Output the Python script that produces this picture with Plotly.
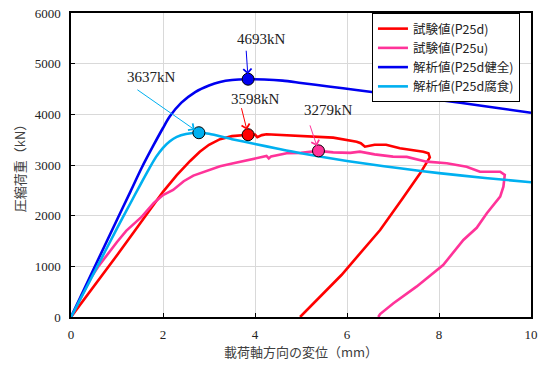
import plotly.graph_objects as go

# ---- data (displacement mm, load kN) ----
red_x = [0, 0.3, 0.59, 1.0, 1.32, 1.7, 2.0, 2.3, 2.59, 2.8, 3.0, 3.24, 3.5, 3.85, 4.0, 4.05, 4.15, 4.25,
         4.98, 5.7, 6.21, 6.3, 6.39, 6.6, 6.85, 7.15, 7.66, 7.77, 7.8, 7.59, 7.2, 6.72, 5.88, 4.98]
red_y = [0, 360, 730, 1220, 1619, 2100, 2470, 2800, 3080, 3260, 3400, 3510, 3570, 3598, 3600, 3550, 3590, 3606,
         3580, 3540, 3460, 3430, 3362, 3400, 3400, 3330, 3260, 3231, 3150, 2836, 2330, 1717, 829, 0]

pink_x = [0, 0.3, 0.45, 0.59, 0.81, 1.0, 1.2, 1.35, 1.54, 1.8, 2.0, 2.22, 2.45, 2.66, 2.9, 3.24, 3.53, 3.9,
          4.25, 4.3, 4.35, 4.69, 5.0, 5.38, 5.7, 6.07, 6.28, 6.6, 7.0, 7.3, 7.73, 8.17, 8.6, 8.89,
          9.2, 9.33, 9.43, 9.4, 9.33, 9.04, 8.82, 8.53, 8.09, 7.51, 7.01, 6.8, 6.72, 6.68]
pink_y = [0, 533, 800, 993, 1263, 1480, 1700, 1820, 1980, 2250, 2408, 2507, 2680, 2790, 2870, 2975, 3034, 3110,
          3178, 3130, 3170, 3231, 3240, 3279, 3250, 3240, 3263, 3210, 3165, 3160, 3066, 3034, 2967, 2868,
          2860, 2868, 2803, 2572, 2375, 2047, 1760, 1520, 1026, 599, 270, 120, 59, 0]

blue_x = [0, 0.5, 1.0, 1.3, 1.54, 1.8, 2.0, 2.15, 2.4, 2.7, 3.0, 3.24, 3.5, 3.85, 4.2, 4.6, 5.0, 5.6,
          6.2, 7.0, 8.0, 9.0, 10.0]
blue_y = [0, 960, 1920, 2490, 2950, 3400, 3730, 3960, 4230, 4440, 4570, 4640, 4678, 4693, 4688, 4665,
          4620, 4550, 4480, 4390, 4285, 4160, 4030]

cyan_x = [0, 0.5, 1.0, 1.3, 1.5, 1.7, 1.85, 2.0, 2.15, 2.3, 2.5, 2.78, 3.0, 3.5, 4.0, 4.5, 5.0, 6.0, 7.15,
          8.0, 9.0, 10.0]
cyan_y = [0, 870, 1750, 2260, 2600, 2930, 3160, 3340, 3470, 3555, 3610, 3637, 3615, 3510, 3415, 3320, 3231, 3080,
          2935, 2840, 2745, 2659]

names = ["試験値(P25d)", "試験値(P25u)", "解析値(P25d健全)", "解析値(P25d腐食)"]
colors = ["#FF0000", "#FF3399", "#0000F0", "#00B0F0"]

peak_x = [3.85, 5.38, 3.85, 2.78]
peak_y = [3598, 3279, 4693, 3637]
peak_labels = ["3598kN", "3279kN", "4693kN", "3637kN"]
label_x = [4.02, 5.59, 4.15, 1.75]
label_y = [4297, 4086, 5482, 4732]

x_ticks = [0, 2, 4, 6, 8, 10]
y_ticks = [0, 1000, 2000, 3000, 4000, 5000, 6000]

SERIF = "Liberation Serif, Times New Roman, serif"
CJK = "Noto Sans CJK JP, sans-serif"

# ---- figure ----
fig = go.Figure()
series = [(red_x, red_y, "linear"), (pink_x, pink_y, "linear"),
          (blue_x, blue_y, "spline"), (cyan_x, cyan_y, "spline")]
for (xs, ys, shp), nm, c in zip(series, names, colors):
    line = dict(color=c, width=2.6, shape=shp)
    if shp == "spline":
        line["smoothing"] = 0.8
    fig.add_trace(go.Scatter(x=xs, y=ys, mode="lines", name=nm, line=line))

for px, py, c in zip(peak_x, peak_y, colors):
    fig.add_trace(go.Scatter(x=[px], y=[py], mode="markers", showlegend=False,
                             marker=dict(size=12, color=c, line=dict(color="black", width=1))))

# arrow offsets in pixels (tail relative to peak)
arrow_ax = [-7, -9, -2, -63]
arrow_ay = [-28, -27, -30, -44]
for px, py, c, ax, ay in zip(peak_x, peak_y, colors, arrow_ax, arrow_ay):
    fig.add_annotation(x=px, y=py, ax=ax, ay=ay, text="", showarrow=True,
                       arrowhead=4, arrowsize=1.6, arrowwidth=1, arrowcolor=c, standoff=5)
for lx, ly, t in zip(label_x, label_y, peak_labels):
    fig.add_annotation(x=lx, y=ly, text=t, showarrow=False,
                       font=dict(family=SERIF, size=15, color="#222222"))

axis_common = dict(showline=True, mirror=True, linecolor="black", linewidth=1.5,
                   showgrid=True, gridcolor="#d9d9d9", gridwidth=1, automargin=False,
                   ticks="inside", ticklen=4, tickcolor="black", zeroline=False,
                   tickfont=dict(family=SERIF, size=13, color="#222222"))

fig.update_xaxes(range=[0, 10], tickvals=x_ticks, ticklabelstandoff=5,
                 title=dict(text="載荷軸方向の変位（mm）", standoff=6,
                            font=dict(family=CJK, size=13, color="#404040")),
                 **axis_common)
fig.update_yaxes(range=[0, 6000], tickvals=y_ticks, ticklabelstandoff=6,
                 title=dict(text="圧縮荷重（kN）", standoff=6,
                            font=dict(family=CJK, size=13, color="#404040")),
                 **axis_common)

fig.update_layout(
    width=538, height=365,
    margin=dict(l=71, r=7, t=13, b=48),
    paper_bgcolor="white", plot_bgcolor="white",
    legend=dict(x=0.976, y=1.0, xanchor="right", yanchor="top",
                bgcolor="white", bordercolor="black", borderwidth=1,
                font=dict(family=CJK, size=12.5, color="#222222"),
                tracegroupgap=0, itemwidth=30),
    showlegend=True,
)

fig.write_html("out.html", config={"displayModeBar": False},
               post_script="document.body.style.margin='0';")
